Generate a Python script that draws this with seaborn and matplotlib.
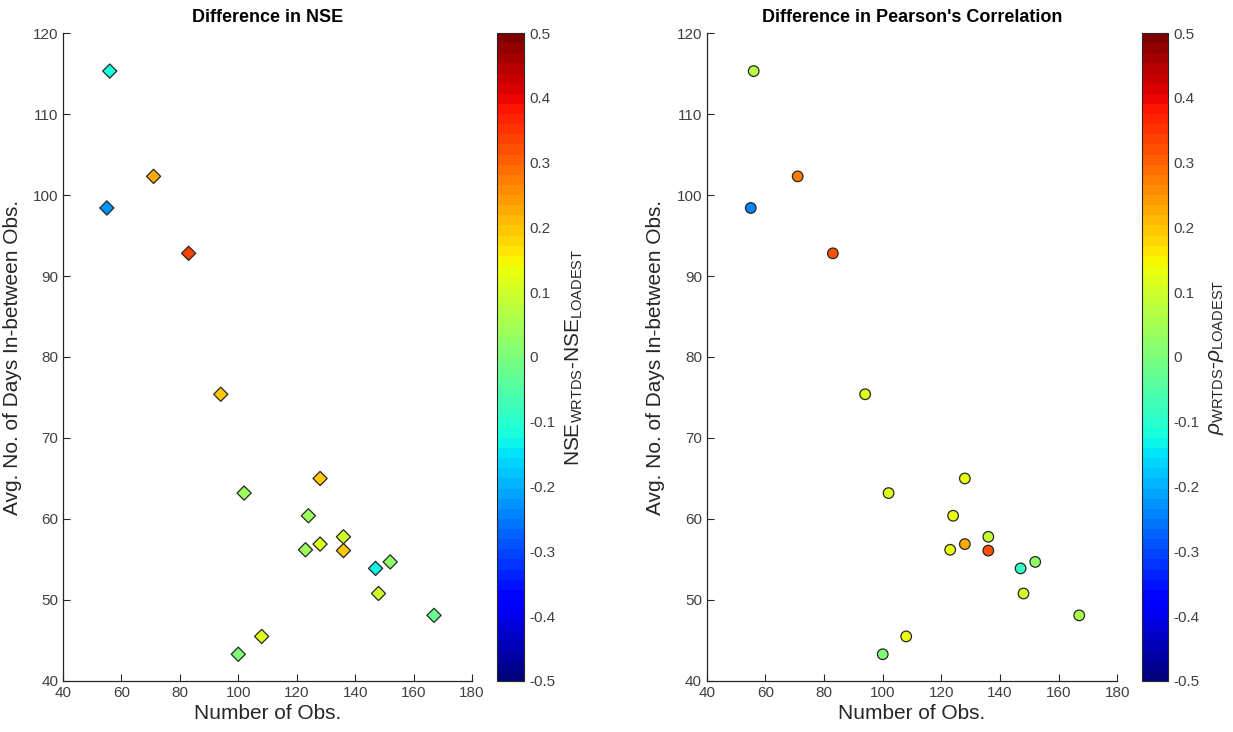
import numpy as np
import pandas as pd
import matplotlib
matplotlib.use("Agg")
import matplotlib.pyplot as plt
import seaborn as sns
from matplotlib.colors import Normalize
from matplotlib.cm import ScalarMappable

# ---- data ----
n_obs = [56, 71, 55, 83, 94, 102, 128, 124, 136, 128, 123, 136, 147, 152, 148, 167, 108, 100]
avg_days = [115.3, 102.3, 98.4, 92.8, 75.4, 63.2, 65.0, 60.4, 57.8, 56.9, 56.2, 56.1,
            53.9, 54.7, 50.8, 48.1, 45.5, 43.3]
nse_diff = [-0.12, 0.22, -0.23, 0.33, 0.19, 0.04, 0.20, 0.04, 0.10, 0.11, 0.04, 0.20,
            -0.14, 0.02, 0.10, -0.03, 0.12, 0.00]
rho_diff = [0.07, 0.27, -0.25, 0.32, 0.11, 0.11, 0.14, 0.13, 0.08, 0.23, 0.13, 0.32,
            -0.09, 0.02, 0.10, 0.05, 0.13, 0.00]

titles = ["Difference in NSE", "Difference in Pearson's Correlation"]
cbar_labels = [r"NSE$_{\mathregular{WRTDS}}$-NSE$_{\mathregular{LOADEST}}$",
               r"$\rho_{\mathregular{WRTDS}}$-$\rho_{\mathregular{LOADEST}}$"]
x_ticks = [40, 60, 80, 100, 120, 140, 160, 180]
y_ticks = [40, 50, 60, 70, 80, 90, 100, 110, 120]
cb_ticks = [-0.5, -0.4, -0.3, -0.2, -0.1, 0, 0.1, 0.2, 0.3, 0.4, 0.5]
cb_ticklabels = ['-0.5', '-0.4', '-0.3', '-0.2', '-0.1', '0', '0.1', '0.2', '0.3', '0.4', '0.5']

sns.set_style("white")
plt.rcParams['font.family'] = ['Liberation Sans', 'DejaVu Sans']
plt.rcParams['mathtext.fontset'] = 'custom'
plt.rcParams['mathtext.rm'] = 'Liberation Sans'
plt.rcParams['mathtext.it'] = 'Liberation Sans:italic'

df = pd.DataFrame({"n": n_obs, "d": avg_days, "nse": nse_diff, "rho": rho_diff})

cmap = matplotlib.colormaps['jet'].resampled(64)
norm = Normalize(-0.5, 0.5)

fig = plt.figure(figsize=(12.33, 7.32), dpi=100)
ax_pos = [[0.0511, 0.0697, 0.3317, 0.8852], [0.5732, 0.0697, 0.3330, 0.8852]]
cb_pos = [[0.4031, 0.0697, 0.0219, 0.8852], [0.9262, 0.0697, 0.0211, 0.8852]]
hues = ["nse", "rho"]
markers = ["D", "o"]
sizes = [52, 58]
tick_col = '#404040'

for i in range(2):
    ax = fig.add_axes(ax_pos[i])
    sns.scatterplot(data=df, x="n", y="d", hue=hues[i], palette=cmap, hue_norm=norm,
                    marker=markers[i], s=sizes[i], edgecolor='#262626', linewidth=0.9,
                    legend=False, ax=ax, zorder=3)
    ax.set_xlim(40, 180)
    ax.set_ylim(40, 120)
    ax.set_xticks(x_ticks)
    ax.set_yticks(y_ticks)
    for sp in ['top', 'right']:
        ax.spines[sp].set_visible(False)
    for sp in ['left', 'bottom']:
        ax.spines[sp].set_color('#262626')
        ax.spines[sp].set_linewidth(0.9)
    ax.tick_params(direction='in', length=5, width=0.8, colors='#262626',
                   labelcolor=tick_col, labelsize=11, left=True, bottom=True)
    ax.set_xlabel("Number of Obs.", fontsize=15, color='#262626', labelpad=3)
    ax.set_ylabel("Avg. No. of Days In-between Obs.", fontsize=15, color='#262626', labelpad=8)
    ax.set_title(titles[i], fontsize=13, fontweight='bold', color='black', pad=8)

    cax = fig.add_axes(cb_pos[i])
    sm = ScalarMappable(norm=norm, cmap=cmap)
    cb = fig.colorbar(sm, cax=cax, ticks=cb_ticks)
    cb.outline.set_edgecolor('#262626')
    cb.outline.set_linewidth(0.8)
    cax.tick_params(direction='in', length=4, width=0.8, colors='#262626',
                    labelcolor=tick_col, labelsize=11)
    cax.set_yticklabels(cb_ticklabels)
    cb.set_label(cbar_labels[i], fontsize=15, color='#262626', labelpad=6)

fig.savefig("out.png", dpi=100)
